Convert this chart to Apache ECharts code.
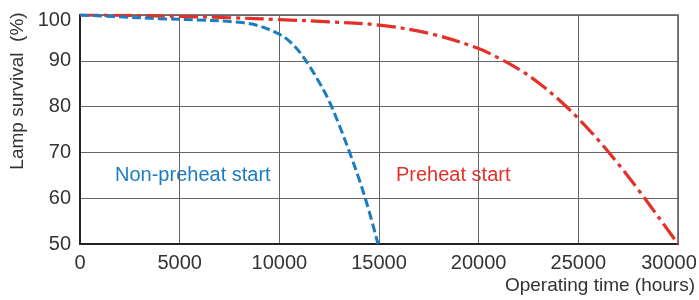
<!DOCTYPE html>
<html>
<head>
<meta charset="utf-8">
<script src="https://cdn.jsdelivr.net/npm/echarts@6/dist/echarts.min.js"></script>
<style>
  html, body { margin: 0; padding: 0; background: #fff; }
  #main { width: 699px; height: 300px; }
</style>
</head>
<body>
<div id="main"></div>
<script>
// lamp survival curves
const nonPreheatHours = [0, 2000, 4000, 6000, 8000, 9000, 10000, 10500, 11000, 11500, 12000, 12500, 13000, 13500, 14000, 14500, 14950]
const nonPreheatSurvival = [100, 99.6, 99.2, 98.9, 98.4, 97.6, 95.8, 94.3, 92.0, 88.9, 85.3, 81.2, 76.0, 70.3, 64.2, 57.2, 50]

const preheatHours = [0, 2500, 5000, 7500, 10000, 12500, 15000, 17500, 20000, 21000, 22000, 23000, 24000, 25000, 26000, 27000, 28000, 29000, 30000]
const preheatSurvival = [100, 99.9, 99.7, 99.4, 99.0, 98.5, 97.8, 96.0, 92.7, 90.6, 88.2, 85.2, 81.6, 77.4, 72.7, 67.5, 61.9, 56.0, 50]

const xTicks = [0, 5000, 10000, 15000, 20000, 25000, 30000]
const yTicks = [50, 60, 70, 80, 90, 100]

const blue = '#1b7cc0'
const red = '#e5302a'
const fontFamily = 'Liberation Sans, Arial, sans-serif'

function pairs(xs, ys) {
    return xs.map((x, i) => [x, ys[i]])
}

const chart = echarts.init(document.getElementById('main'), null, { renderer: 'canvas' })

const option = {
    animation: false,
    textStyle: { fontFamily: fontFamily },
    grid: {
        left: 80,
        right: 21,
        top: 15,
        bottom: 56,
        outerBoundsMode: 'none',
        containLabel: false,
        show: true,
        borderColor: '#555',
        borderWidth: 1.5
    },
    xAxis: {
        type: 'value',
        min: xTicks[0],
        max: xTicks[xTicks.length - 1],
        interval: 5000,
        axisLine: { show: true, lineStyle: { color: '#222', width: 2 } },
        axisTick: { show: false },
        axisLabel: {
            color: '#333', fontSize: 20, margin: 9, fontFamily: fontFamily,
            // the last label sits a bit left of its gridline in the original
            formatter: v => v === xTicks[xTicks.length - 1] ? '{last|' + v + '}' : String(v),
            rich: {
                last: { fontSize: 20, color: '#333', fontFamily: fontFamily, padding: [0, 18, 0, 0] }
            }
        },
        splitLine: { show: true, lineStyle: { color: '#666', width: 1 } }
    },
    yAxis: {
        type: 'value',
        min: yTicks[0],
        max: yTicks[yTicks.length - 1],
        interval: 10,
        axisLine: { show: true, lineStyle: { color: '#222', width: 2 } },
        axisTick: { show: false },
        axisLabel: {
            color: '#333', fontSize: 20, margin: 9, fontFamily: fontFamily,
            formatter: v => v === yTicks[yTicks.length - 1] ? '{top|' + v + '}' : String(v),
            rich: {
                top: { fontSize: 20, color: '#333', fontFamily: fontFamily, padding: [11, 0, 0, 0] }
            }
        },
        splitLine: { show: true, lineStyle: { color: '#666', width: 1 } }
    },
    series: [
        {
            name: 'Non-preheat start',
            type: 'line',
            data: pairs(nonPreheatHours, nonPreheatSurvival),
            smooth: 0.35,
            showSymbol: false,
            lineStyle: { color: blue, width: 3, type: [9, 4] },
            z: 3
        },
        {
            name: 'Preheat start',
            type: 'line',
            data: pairs(preheatHours, preheatSurvival),
            smooth: 0.35,
            showSymbol: false,
            lineStyle: { color: red, width: 3.2, type: [19, 5, 4, 5] },
            z: 2
        }
    ],
    graphic: [
        {
            type: 'text',
            x: 18,
            y: 91,
            rotation: Math.PI / 2,
            style: {
                text: 'Lamp survival  (%)', fill: '#333', font: '19px ' + fontFamily,
                align: 'center', verticalAlign: 'middle'
            }
        },
        {
            type: 'text',
            left: 115,
            top: 165,
            style: { text: 'Non-preheat start', fill: blue, font: '20px ' + fontFamily }
        },
        {
            type: 'text',
            left: 396,
            top: 165,
            style: { text: 'Preheat start', fill: red, font: '20px ' + fontFamily }
        },
        {
            type: 'text',
            right: 4,
            top: 276,
            style: { text: 'Operating time (hours)', fill: '#333', font: '19px ' + fontFamily }
        }
    ]
}

chart.setOption(option)
</script>
</body>
</html>
